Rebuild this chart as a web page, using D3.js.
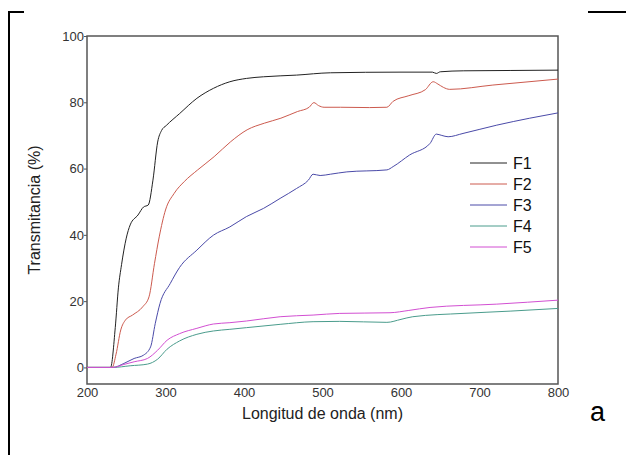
<!DOCTYPE html>
<html>
<head>
<meta charset="utf-8">
<script src="https://cdn.jsdelivr.net/npm/d3@7"></script>
<style>
  body { margin: 0; background: #fff; }
  text { font-family: Arial, "Liberation Sans", sans-serif; }
</style>
</head>
<body>
<div id="chart_div"></div>
<script>
// series (wavelength nm / transmittance %)
var f1Wl = [200,230,236,240,244,250,255,265,272,278,284,290,295,301,318,340,361,382,403,425,467,510,600,640,645,650,680,740,800];
var f1T  = [0,0,12,24,31,39,43,46,48.4,49,56.5,68,71.5,73,76.6,81.2,84.2,86.2,87.2,87.7,88.2,88.9,89.1,89.1,88.7,89.2,89.5,89.6,89.7];

var f2Wl = [200,232,237,243,249,258,271,279,286,292,300,311,324,341,362,383,404,426,447,468,483,489,495,502,523,560,582,590,610,631,641,647,654,662,717,800];
var f2T  = [0,0,4,11.3,14.3,15.8,18.3,21.3,31.4,39.4,47.5,52.5,56.1,59.6,63.6,68.1,71.7,73.7,75.2,77.2,78.5,79.9,79,78.5,78.5,78.4,78.5,80.3,82,83.8,86.2,85.5,84.5,83.9,85.2,87];

var f3Wl = [200,233,247,260,272,281,287,293,306,318,340,361,382,403,425,446,467,482,488,497,510,531,582,590,611,637,645,652,660,679,722,764,800];
var f3T  = [0,0,1.2,2.7,3.7,6.2,13.3,19.3,25.3,30.2,35.4,39.9,42.4,45.5,48,51,54,56.5,58.3,57.9,58.3,59,59.6,60.6,64.1,67.6,70.4,70,69.6,70.6,73.1,75.2,76.8];

var f4Wl = [200,233,255,277,290,302,318,340,361,382,403,446,488,522,582,600,615,679,740,800];
var f4T  = [0,0,0.5,1,2.5,5.5,8,10,11,11.5,12,13,13.8,13.9,13.6,14.5,15.3,16.3,17,17.8];

var f5Wl = [200,233,247,260,277,290,302,318,340,361,382,403,446,488,522,586,610,637,722,800];
var f5T  = [0,0,0.9,1.7,2.7,5.2,8.2,10.2,11.8,13.1,13.5,14,15.3,15.8,16.3,16.5,17.2,18.1,19.1,20.3];

var names  = ["F1","F2","F3","F4","F5"];
var colors = ["#222222","#cc5a4e","#4a4aa8","#4a9c8c","#d24fd2"];
var xTicks = [200,300,400,500,600,700,800];
var yTicks = [0,20,40,60,80,100];

var W = 626, H = 455;
var margin = {top: 36, right: 68, bottom: 71, left: 87},
    width = W - margin.left - margin.right,
    height = H - margin.top - margin.bottom;

var svg = d3.select("#chart_div").append("svg")
    .attr("width", W)
    .attr("height", H);

// outer frame (only partly visible in the original)
svg.append("line").attr("x1", 9).attr("x2", 9).attr("y1", 11).attr("y2", H)
    .attr("stroke", "#000").attr("stroke-width", 2);
svg.append("line").attr("x1", 8).attr("x2", 24).attr("y1", 12).attr("y2", 12)
    .attr("stroke", "#000").attr("stroke-width", 2);
svg.append("line").attr("x1", 588).attr("x2", W).attr("y1", 12).attr("y2", 12)
    .attr("stroke", "#000").attr("stroke-width", 2);

var g = svg.append("g")
    .attr("transform", "translate(" + margin.left + "," + margin.top + ")");

var x = d3.scaleLinear().domain([200, 800]).range([0, width]);
var y = d3.scaleLinear().domain([-5, 100]).range([height, 0]);

// box
g.append("rect")
    .attr("width", width).attr("height", height)
    .attr("fill", "none").attr("stroke", "#555").attr("stroke-width", 1.5);

var xAxis = g.append("g")
    .attr("transform", "translate(0," + height + ")")
    .call(d3.axisBottom(x).tickValues(xTicks).tickSize(0).tickPadding(4));
var yAxis = g.append("g")
    .call(d3.axisLeft(y).tickValues(yTicks).tickSize(3).tickSizeOuter(0).tickPadding(0));

[xAxis, yAxis].forEach(function(a) {
  a.select(".domain").remove();
  a.selectAll("line").attr("stroke", "#555");
  a.selectAll("text").attr("fill", "#333").style("font-size", "13px")
    .style("font-family", "Arial, 'Liberation Sans', sans-serif");
});

// curves
var series = [
  {wl: f1Wl, t: f1T},
  {wl: f2Wl, t: f2T},
  {wl: f3Wl, t: f3T},
  {wl: f4Wl, t: f4T},
  {wl: f5Wl, t: f5T}
];
var line = d3.line()
    .x(function(d) { return x(d[0]); })
    .y(function(d) { return y(d[1]); })
    .curve(d3.curveMonotoneX);

series.forEach(function(s, i) {
  g.append("path")
      .datum(d3.zip(s.wl, s.t))
      .attr("fill", "none")
      .attr("stroke", colors[i])
      .attr("stroke-width", 1)
      .attr("d", line);
});

// legend
var legend = g.selectAll(".leg")
    .data(names)
    .enter().append("g")
    .attr("class", "leg")
    .attr("transform", function(d, i) { return "translate(383," + (127 + i * 21) + ")"; });
legend.append("line")
    .attr("x1", 0).attr("x2", 37)
    .attr("stroke", function(d, i) { return colors[i]; })
    .attr("stroke-width", 1);
legend.append("text")
    .attr("x", 43).attr("dy", "0.35em")
    .attr("fill", "#111")
    .style("font-size", "16px")
    .text(function(d) { return d; });

// axis titles
svg.append("text")
    .attr("x", margin.left + width / 2).attr("y", 419)
    .attr("text-anchor", "middle").attr("fill", "#222")
    .style("font-size", "16px")
    .text("Longitud de onda (nm)");
svg.append("text")
    .attr("transform", "translate(40," + (margin.top + height / 2) + ") rotate(-90)")
    .attr("text-anchor", "middle").attr("fill", "#222")
    .style("font-size", "16px")
    .text("Transmitancia (%)");

svg.append("text")
    .attr("x", 590).attr("y", 421)
    .attr("fill", "#000")
    .style("font-size", "27px")
    .text("a");
</script>
</body>
</html>
